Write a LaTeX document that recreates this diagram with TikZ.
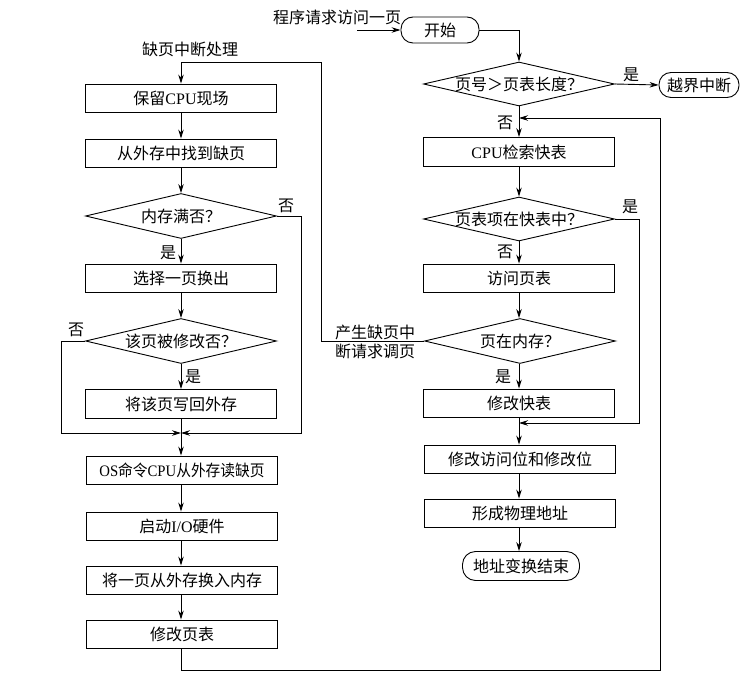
\documentclass[tikz,border=0pt]{standalone}
\usepackage{fontspec}
\setmainfont{Liberation Serif}
\newfontfamily\cjk{Noto Sans CJK SC}
\usetikzlibrary{shapes.geometric,arrows.meta}
\newcommand\lat[1]{{\rmfamily #1}}
\tikzset{
  box/.style={draw, line width=0.9pt, minimum width=191pt, minimum height=28pt, inner sep=0pt},
  dia/.style={draw, line width=0.9pt, diamond, minimum width=191pt, minimum height=45pt, inner sep=0pt},
  term/.style={draw, line width=0.9pt, rounded corners=12pt, minimum height=26pt, inner sep=0pt},
  arr/.style={-{Stealth[length=9pt,width=5.5pt]}, line width=0.9pt},
  lbl/.style={inner sep=0pt},
}
\begin{document}
\begin{tikzpicture}[x=1pt,y=-1pt,font=\cjk\fontsize{16}{19}\selectfont]
\useasboundingbox (0,0) rectangle (744,687);
% left column
\node[box] (L1) at (181,98) {保留\lat{CPU}现场};
\node[box] (L2) at (181,153) {从外存中找到缺页};
\node[dia, label={center:内存满否？}] (D1) at (181,216) {};
\node[box] (L3) at (181,278) {选择一页换出};
\node[dia, label={center:该页被修改否？}] (D2) at (181,341) {};
\node[box, minimum height=29pt] (L4) at (181,404) {将该页写回外存};
\coordinate (m3) at (181,433);
\node[box] (L5) at (182,470) {\scalebox{0.92}[1]{\lat{OS}命令\lat{CPU}从外存读缺页}};
\node[box] (L6) at (182,526) {启动\lat{I/O}硬件};
\node[box] (L7) at (182,580) {将一页从外存换入内存};
\node[box] (L8) at (182,634) {修改页表};
% right column
\node[term, minimum width=78pt] (S) at (440,30) {开始};
\node[dia, minimum height=44pt, label={center:页号＞页表长度？}] (R0) at (519,84) {};
\node[term, minimum width=80pt, minimum height=25pt] (E) at (699,85) {越界中断};
\coordinate (m1) at (519,118);
\node[box, minimum height=29pt] (R1) at (519,152) {\lat{CPU}检索快表};
\node[dia, minimum height=44pt, label={center:页表项在快表中？}] (R2) at (519,219) {};
\node[box] (R3) at (519,278) {访问页表};
\node[dia, label={center:页在内存？}] (R4) at (520,341) {};
\node[box] (R5) at (519,403) {修改快表};
\coordinate (m2) at (519,423);
\node[box] (R6) at (520,459) {修改访问位和修改位};
\node[box] (R7) at (520,513) {形成物理地址};
\node[term, minimum width=117pt, minimum height=29pt, rounded corners=13pt] (T) at (521,566) {地址变换结束};
\coordinate (in) at (357,30);
% labels
\node[lbl] (t0) at (337,17) {程序请求访问一页};
\node[lbl] (t1) at (190,49) {缺页中断处理};
\node[lbl] (a1) at (286,206) {否};
\node[lbl] (a2) at (168,253) {是};
\node[lbl] (a3) at (76,330) {否};
\node[lbl] (a4) at (193,377) {是};
\node[lbl] (b1) at (631,75) {是};
\node[lbl] (b2) at (505,123) {否};
\node[lbl] (b3) at (630,207) {是};
\node[lbl] (b4) at (505,252) {否};
\node[lbl] (b5) at (503,377) {是};
\node[lbl, align=center] (c1) at (375,342) {产生缺页中\\断请求调页};
% connectors left
\draw[arr] (L1.south) -- (L2.north);
\draw[arr] (L2.south) -- (D1.north);
\draw[arr] (D1.south) -- (L3.north);
\draw[arr] (L3.south) -- (D2.north);
\draw[arr] (D2.south) -- (L4.north);
\draw[arr] (L4.south) -- (L5.north -| L4.south);
\draw[arr] (D1.east) -- ++(24,0) |- (m3);
\draw[arr] (D2.west) -- ++(-24,0) |- (m3);
\draw[arr] (L5.south -| L4.south) -- (L6.north -| L4.south);
\draw[arr] (L6.south -| L4.south) -- (L7.north -| L4.south);
\draw[arr] (L7.south -| L4.south) -- (L8.north -| L4.south);
\draw[arr] (L8.south -| L4.south) |- (660,670) |- (m1);
% connectors right
\draw[arr] (in) -- (S.west);
\draw[arr] (S.east) -| (R0.north);
\draw[arr] (R0.east) -- (E.west);
\draw[arr] (R0.south) -- (R1.north);
\draw[arr] (R1.south) -- (R2.north);
\draw[arr] (R2.south) -- (R3.north);
\draw[arr] (R3.south) -- (R4.north -| R3.south);
\draw[arr] (R4.south -| R3.south) -- (R5.north);
\draw[arr] (R5.south) -- (R6.north -| R5.south);
\draw[arr] (R2.east) -- ++(24,0) |- (m2);
\draw[arr] (R6.south -| R5.south) -- (R7.north -| R5.south);
\draw[arr] (R7.south -| R5.south) -- (T.north -| R5.south);
\draw[arr] (R4.west) -| (321,62) -| (L1.north);
\end{tikzpicture}
\end{document}
